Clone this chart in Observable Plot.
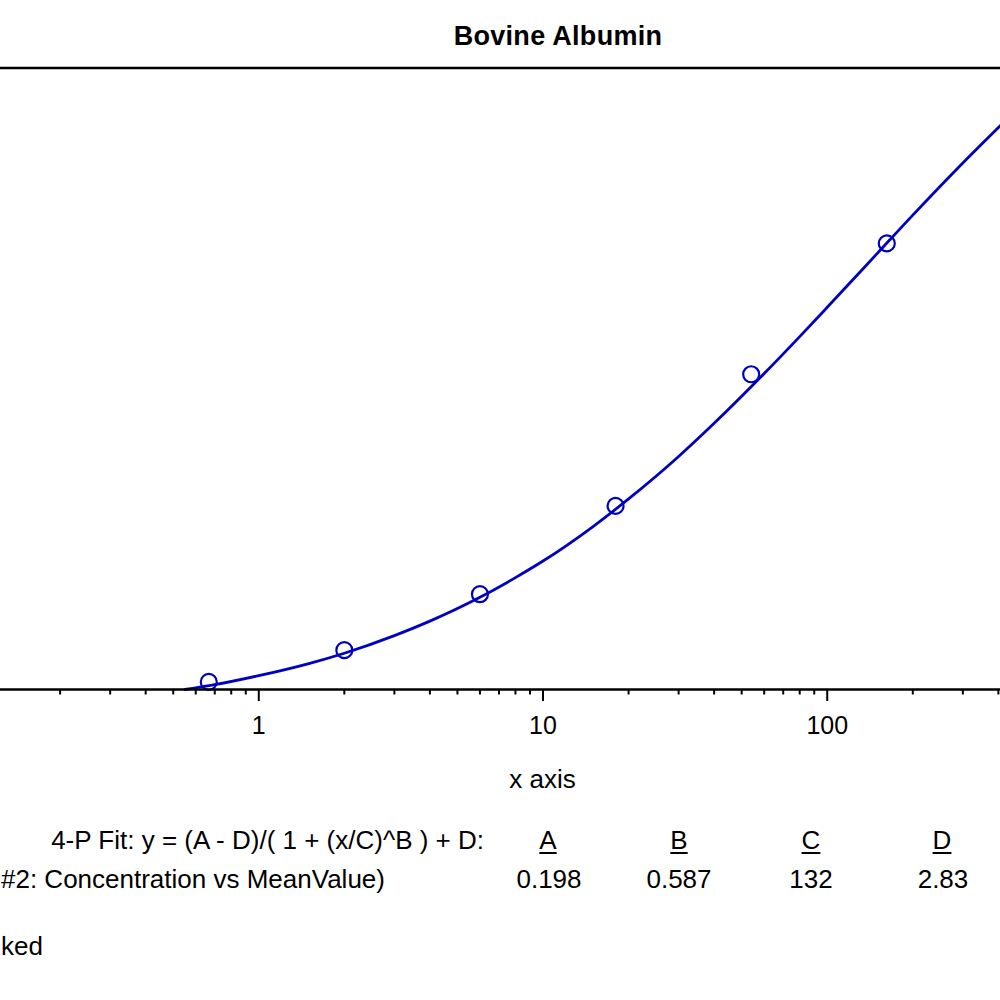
<!DOCTYPE html>
<html>
<head>
<meta charset="utf-8">
<script src="https://cdn.jsdelivr.net/npm/d3@7"></script>
<script src="https://cdn.jsdelivr.net/npm/@observablehq/plot@0.6"></script>
<style>
html, body { margin: 0; padding: 0; background: #fff; }
body { width: 1000px; height: 1000px; overflow: hidden; position: relative; font-family: "Liberation Sans", Arial, sans-serif; color: #000; }
#title { height: 65px; box-sizing: border-box; padding-top: 23px; width: 1116px; text-align: center; font-weight: bold; font-size: 27px; line-height: 27px; letter-spacing: 0.3px; white-space: nowrap; }
#chart svg { display: block; }
#legend { position: relative; width: 1000px; height: 190px; font-size: 26px; }
.t { position: absolute; white-space: nowrap; line-height: 26px; }
.c { width: 100px; text-align: center; }
.u { text-decoration: underline; text-decoration-thickness: 1.5px; text-underline-offset: 3px; }
</style>
</head>
<body>
<div id="title"></div>
<div id="chart"></div>
<div id="legend"></div>
<script>
// ---- data ----
const titleText = "Bovine Albumin";
const xLabel = "x axis";
const xDomain = [0.1234, 407];
const yDomain = [0.3, 2.1];
const majorTicks = [1, 10, 100];
const majorTickLabels = ["1", "10", "100"];
const minorTicks = [0.2, 0.3, 0.4, 0.5, 0.6, 0.7, 0.8, 0.9, 2, 3, 4, 5, 6, 7, 8, 9, 20, 30, 40, 50, 60, 70, 80, 90, 200, 300, 400];

// measured standards (concentration vs mean value)
const pointX = [0.667, 2, 6, 18, 54, 162];
const pointY = [0.322, 0.414, 0.576, 0.832, 1.213, 1.592];

// fitted curve
const curveX = [0.55, 0.7, 1, 1.5, 2, 3, 4, 6, 8, 10, 15, 20, 30, 40, 60, 80, 100, 150, 200, 300, 410];
const curveY = [0.300, 0.314, 0.340, 0.375, 0.405, 0.456, 0.498, 0.567, 0.624, 0.672, 0.772, 0.852, 0.975, 1.071, 1.215, 1.322, 1.407, 1.563, 1.674, 1.825, 1.936];

// fit legend (visible parts of the cropped lines)
const fitFormula = "4-P Fit: y = (A - D)/( 1 + (x/C)^B ) + D:";
const seriesName = "#2: Concentration vs MeanValue)";
const paramNames = ["A", "B", "C", "D"];
const paramValues = ["0.198", "0.587", "132", "2.83"];
const footerText = "ked";

// ---- build ----
const blue = "#0000c0";
const points = pointX.map((x, i) => ({x, y: pointY[i]}));
const curve = curveX.map((x, i) => ({x, y: curveY[i]}));

document.getElementById("title").textContent = titleText;

const chart = Plot.plot({
  width: 1000,
  height: 745,
  marginLeft: 0,
  marginRight: 0,
  marginTop: 2.5,
  marginBottom: 121,
  style: {fontFamily: "Liberation Sans, Arial, sans-serif", color: "#000", background: "#fff", overflow: "visible"},
  x: {type: "log", domain: xDomain},
  y: {domain: yDomain, axis: null},
  marks: [
    Plot.ruleY([yDomain[1]], {stroke: "#000", strokeWidth: 2.3}),
    Plot.line(curve, {x: "x", y: "y", stroke: blue, strokeWidth: 2.8, curve: "monotone-x"}),
    Plot.dot(points, {x: "x", y: "y", r: 8, stroke: blue, strokeWidth: 2.2, fill: "none"}),
    Plot.ruleY([yDomain[0]], {stroke: "#000", strokeWidth: 2.3}),
    Plot.axisX({ticks: minorTicks, tickSize: 5.5, strokeWidth: 2, tickFormat: () => "", label: null}),
    Plot.axisX({ticks: majorTicks, tickSize: 12, tickPadding: 15, strokeWidth: 2, fontSize: 25,
      tickFormat: d => majorTickLabels[majorTicks.indexOf(d)], label: null}),
    Plot.text([xLabel], {frameAnchor: "bottom", dx: 42, dy: 98, fontSize: 26, lineAnchor: "bottom", fill: "#000"})
  ]
});
document.getElementById("chart").appendChild(chart);

// legend block below the chart
const legend = document.getElementById("legend");
function addText(txt, style, cls) {
  const s = document.createElement("span");
  s.className = "t " + (cls || "");
  s.textContent = txt;
  Object.assign(s.style, style);
  legend.appendChild(s);
}
addText(fitFormula, {right: "516px", top: "17px"});
addText(seriesName, {left: "1px", top: "56px"});
addText(footerText, {left: "1px", top: "123px"});
const nameCenters = [548, 679, 811, 942];
const valueCenters = [549, 679, 811, 943];
paramNames.forEach((n, i) => addText(n, {left: (nameCenters[i] - 50) + "px", top: "17px"}, "c u"));
paramValues.forEach((v, i) => addText(v, {left: (valueCenters[i] - 50) + "px", top: "56px"}, "c"));
</script>
</body>
</html>
